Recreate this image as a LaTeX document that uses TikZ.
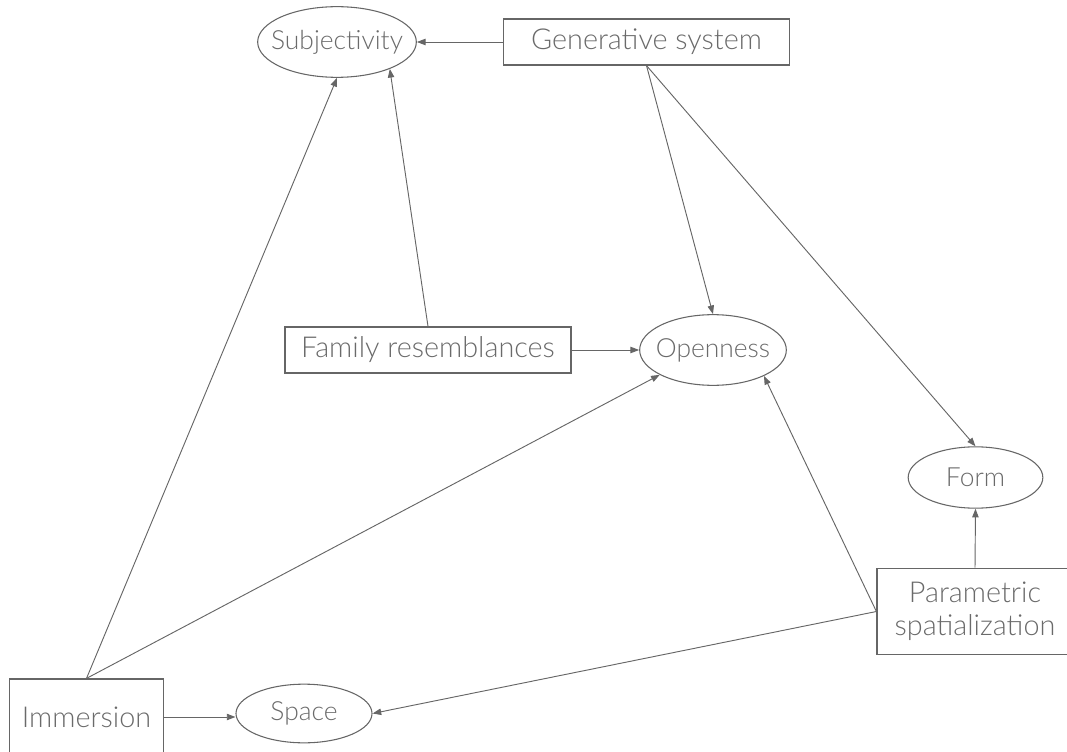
\documentclass[tikz,border=0pt]{standalone}
\usepackage{fontspec}
\setmainfont{Lato Light}
\usetikzlibrary{shapes.geometric,arrows.meta}
\definecolor{ink}{HTML}{666666}
\definecolor{txt}{HTML}{6a6a6a}

\begin{document}
\begin{tikzpicture}[x=0.75pt,y=-0.75pt,
  box/.style={draw=ink, line width=0.9pt, inner sep=0pt, text=txt,
    font=\fontsize{21.6}{25}\selectfont, align=center},
  concept/.style={ellipse, draw=ink, line width=0.8pt, inner sep=0pt,
    label={[ctext]center:#1}},
  ctext/.style={text=txt, inner sep=0pt, font=\fontsize{19.8}{23}\selectfont},
  link/.style={draw=ink, line width=0.7pt, -{Triangle[length=6.5pt,width=4.8pt]}}]
\useasboundingbox (0,0) rectangle (1067,752);

% concepts: fixed-size ellipses, their names laid on top
\node[concept=Subjectivity, minimum width=119pt, minimum height=53pt] (subj) at (337,42) {};
\node[concept=Openness, minimum width=110pt, minimum height=53pt] (open) at (713,350) {};
\node[concept=Form, minimum width=101pt, minimum height=46pt] (form) at (975.5,477.5) {};
\node[concept=Space, minimum width=102pt, minimum height=44pt] (space) at (304,713.5) {};

% sources
\node[box, minimum width=215pt, minimum height=34.5pt] (gen) at (646.5,42) {Generative system};
\node[box, minimum width=214.5pt, minimum height=34.5pt] (fam) at (428,350) {Family resemblances};
\node[box, minimum width=147pt, minimum height=65pt] (param) at (975,611.5) {Parametric\\spatialization};
\node[box, minimum width=115pt, minimum height=57pt] (imm) at (86.5,717) {Immersion};

% influences
\draw[link] (gen.west) -- (subj.east);
\draw[link] (gen.south) -- (open.north);
\draw[link] (gen.south) -- (form.north);
\draw[link] (fam.north) -- (subj.-27);
\draw[link] (fam.east) -- (open.west);
\draw[link] (imm.north) -- (subj.south);
\draw[link] (imm.north) -- (open.205);
\draw[link] (imm.east) -- (space.west |- imm.east);
\draw[link] (param.west) -- (open.-27);
\draw[link] (param.west) -- (space.east);
\draw[link] (param.north) -- (form.south);
\end{tikzpicture}
\end{document}
